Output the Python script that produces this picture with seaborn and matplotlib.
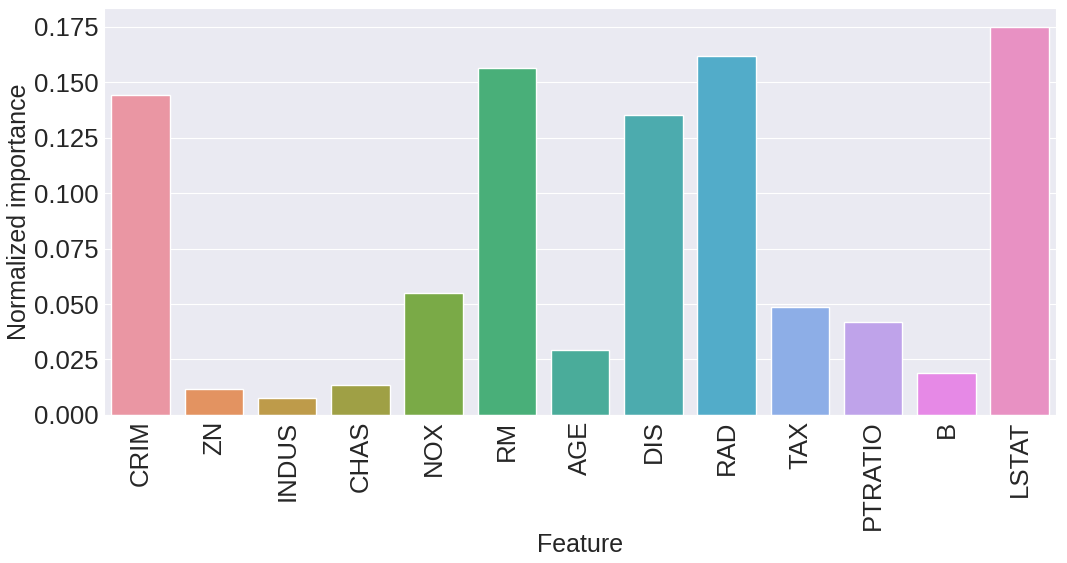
import pandas as pd
import matplotlib.pyplot as plt
import seaborn as sns

features = ["CRIM", "ZN", "INDUS", "CHAS", "NOX", "RM", "AGE", "DIS",
            "RAD", "TAX", "PTRATIO", "B", "LSTAT"]
importance = [0.1443, 0.0117, 0.0076, 0.0135, 0.0549, 0.1566, 0.0293, 0.1352,
              0.1617, 0.0487, 0.0419, 0.0190, 0.1748]

data = pd.DataFrame({"Feature": features, "Normalized importance": importance})

sns.set_style("darkgrid")
plt.rcParams["font.family"] = ["Liberation Sans", "DejaVu Sans"]
fig = plt.figure(figsize=(10.67, 5.63), dpi=100)
ax = sns.barplot(x="Feature", y="Normalized importance", hue="Feature", data=data,
                 palette=sns.husl_palette(len(features), l=.7), legend=False)
plt.xticks(rotation=90, fontsize=18.5)
plt.yticks(fontsize=18.5)
ax.tick_params(axis="y", length=0, pad=4, colors=".15")
ax.tick_params(axis="x", length=0, pad=4, colors=".15")
ax.set_xlabel("Feature", fontsize=18, color=".15", labelpad=2)
ax.set_ylabel("Normalized importance", fontsize=18, color=".15", labelpad=2)
plt.subplots_adjust(left=0.0975, right=0.99, top=0.986, bottom=0.263)
plt.savefig("out.png", dpi=100)
